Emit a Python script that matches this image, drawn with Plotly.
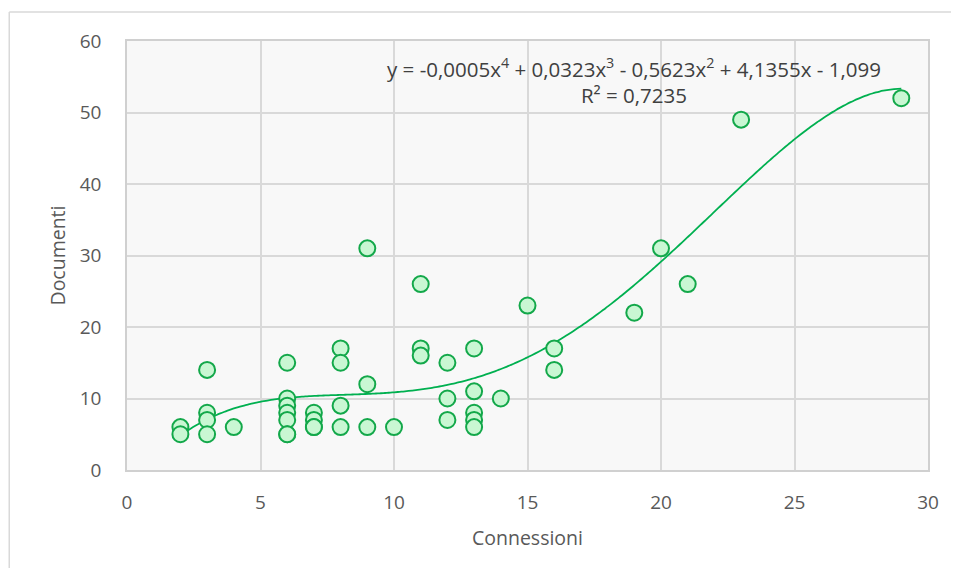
import numpy as np
import plotly.graph_objects as go

connessioni = [2, 2, 3, 3, 3, 3, 4, 6, 6, 6, 6, 6, 6, 6, 7, 7, 7, 7, 8, 8, 8, 8, 9, 9, 9, 10,
               11, 11, 11, 12, 12, 12, 13, 13, 13, 13, 13, 14, 15, 16, 16, 19, 20, 21, 23, 29]
documenti = [6, 5, 14, 8, 7, 5, 6, 15, 10, 9, 8, 7, 5, 5, 8, 7, 6, 6, 17, 15, 9, 6, 31, 12, 6, 6,
             26, 17, 16, 15, 10, 7, 17, 11, 8, 7, 6, 10, 23, 17, 14, 22, 31, 26, 49, 52]

equation_text = ("y = -0,0005x<sup>4</sup> + 0,0323x<sup>3</sup> - 0,5623x<sup>2</sup>"
                 " + 4,1355x - 1,099<br>R² = 0,7235")

coef = np.polyfit(connessioni, documenti, 4)
xt = np.linspace(min(connessioni), max(connessioni), 200)
yt = np.polyval(coef, xt)

font = "'Open Sans', sans-serif"
txt = "#595959"
fig = go.Figure()
fig.add_trace(go.Scatter(x=xt, y=yt, mode="lines",
                         line=dict(color="#00b050", width=1.8, shape="spline"), hoverinfo="skip"))
fig.add_trace(go.Scatter(x=connessioni, y=documenti, mode="markers",
                         marker=dict(size=16, color="#c9f7d3",
                                     line=dict(color="#13a84a", width=2))))

border = dict(color="#d9d9d9", width=1.5)
# page body has an 8px margin on every side: figure sized to fit the window without scrollbars
fig.update_layout(
    width=943, height=560,
    margin=dict(l=119, r=23, t=33, b=98),
    paper_bgcolor="white", plot_bgcolor="#f8f8f8",
    showlegend=False,
    font=dict(family=font, size=19, color=txt),
    xaxis=dict(range=[0, 30], dtick=5, showgrid=True, gridcolor="#d9d9d9", gridwidth=1.5,
               zeroline=False, showline=True, mirror=True, linecolor="#d0d0d0", linewidth=1.5,
               ticks="", tickfont=dict(size=19, color=txt), ticklabelstandoff=14,
               title=dict(text="Connessioni", font=dict(size=19.5, color=txt), standoff=18)),
    yaxis=dict(range=[0, 60], dtick=10, showgrid=True, gridcolor="#d9d9d9", gridwidth=1.5,
               zeroline=False, showline=True, mirror=True, linecolor="#d0d0d0", linewidth=1.5,
               ticks="", tickfont=dict(size=19, color=txt), ticklabelstandoff=20,
               title=dict(text="Documenti", font=dict(size=19.5, color=txt), standoff=9)),
    shapes=[dict(type="line", xref="paper", yref="paper", x0=-0.147, x1=1.2, y0=1.0676, y1=1.0676,
                 line=border, layer="below"),
            dict(type="line", xref="paper", yref="paper", x0=-0.147, x1=-0.147, y0=-0.4, y1=1.0676,
                 line=border, layer="below")],
    annotations=[dict(text=equation_text, xref="paper", yref="paper",
                      x=(634 - 127) / 801, y=(470 - 81) / 429, showarrow=False,
                      xanchor="center", yanchor="middle",
                      align="center", font=dict(size=20.5, color="#404040"),
                      bgcolor="rgba(255,255,255,0)")],
)
fig.write_html("out.html")
